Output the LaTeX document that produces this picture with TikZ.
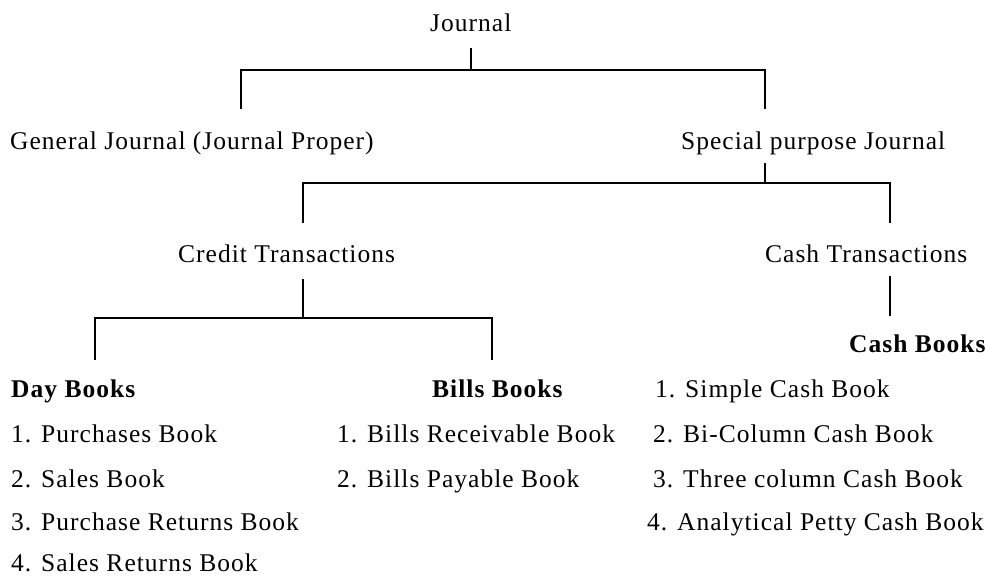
\documentclass[tikz,border=0pt]{standalone}
\usepackage{fontspec}
\setmainfont{Liberation Serif}[LetterSpace=4]
\begin{document}
\begin{tikzpicture}[x=1pt,y=-1pt,
  lbl/.style={anchor=base west,inner sep=0pt,font=\fontsize{25.5}{30}\selectfont},
  head/.style={lbl,font=\fontsize{25.5}{30}\selectfont\bfseries},
  tree/.style={line width=1.2pt,line cap=rect}]
\useasboundingbox (0,0) rectangle (990,577);

% level 0 and 1
\node[lbl] (journal) at (430,32) {Journal};
\node[lbl] (general) at (10,150) {General Journal (Journal Proper)};
\node[lbl] (special) at (681,150) {Special purpose Journal};

% level 2
\node[lbl] (credit) at (178,263) {Credit Transactions};
\node[lbl] (cash) at (765,263) {Cash Transactions};

% level 3 headings
\node[head] (day) at (11,397) {Day Books};
\node[head] (bills) at (432,397) {Bills Books};
\node[head] (cashbooks) at (849,352) {Cash Books};

% day books
\node[lbl] (d1) at (11,442) {1. Purchases Book};
\node[lbl] (d2) at (11,487) {2. Sales Book};
\node[lbl] (d3) at (11,530) {3. Purchase Returns Book};
\node[lbl,text depth=0pt] (d4) at (11,571) {4. Sales Returns Book};

% bills books
\node[lbl] (b1) at (337,442) {1. Bills Receivable Book};
\node[lbl] (b2) at (337,487) {2. Bills Payable Book};

% cash books
\node[lbl] (c1) at (655,397) {1. Simple Cash Book};
\node[lbl] (c2) at (653,442) {2. Bi-Column Cash Book};
\node[lbl] (c3) at (653,487) {3. Three column Cash Book};
\node[lbl] (c4) at (647,530) {4. Analytical Petty Cash Book};

% connector end points
\coordinate (jstem) at (471,49);
\coordinate (jbar) at (471,70);
\coordinate (gtop) at (241,108);
\coordinate (stop) at (765,108);
\coordinate (sstem) at (765,164);
\coordinate (sbar) at (765,183);
\coordinate (crtop) at (303,222);
\coordinate (catop) at (890,222);
\coordinate (crstem) at (303,280);
\coordinate (crbar) at (303,318);
\coordinate (daytop) at (95,359);
\coordinate (billtop) at (492,359);
\coordinate (castem) at (890,277);
\coordinate (cbtop) at (890,315);

% brackets
\draw[tree] (jstem) -- (jbar);
\draw[tree] (gtop) |- (jbar) -| (stop);
\draw[tree] (sstem) -- (sbar);
\draw[tree] (crtop) |- (sbar) -| (catop);
\draw[tree] (crstem) -- (crbar);
\draw[tree] (daytop) |- (crbar) -| (billtop);
\draw[tree] (castem) -- (cbtop);
\end{tikzpicture}
\end{document}
